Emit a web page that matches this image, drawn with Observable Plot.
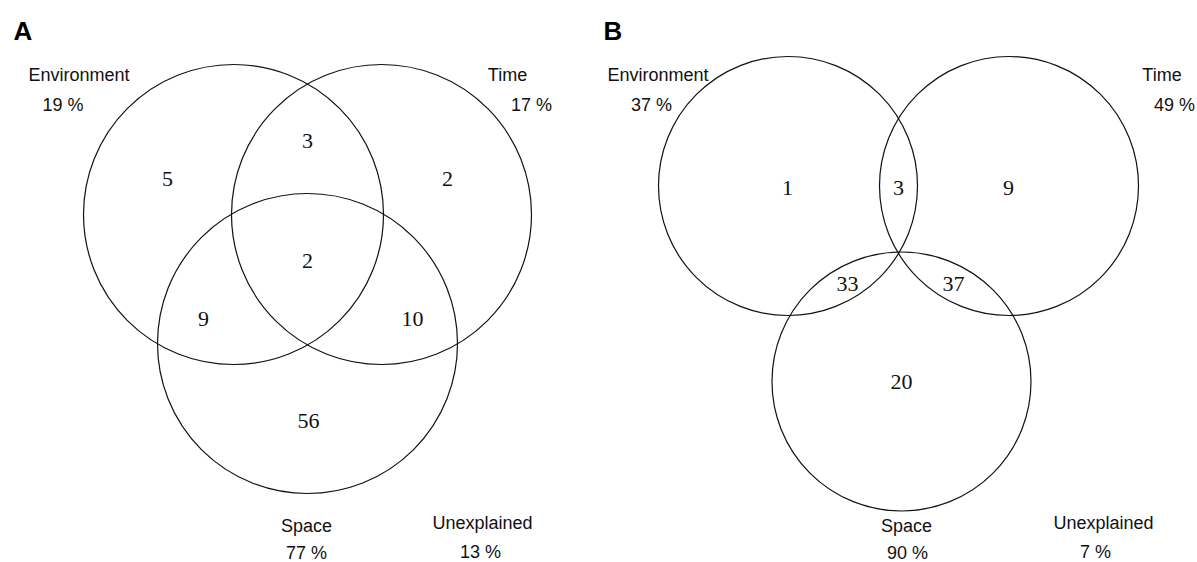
<!DOCTYPE html>
<html><head><meta charset="utf-8">
<script src="https://cdn.jsdelivr.net/npm/d3@7"></script>
<script src="https://cdn.jsdelivr.net/npm/@observablehq/plot@0.6"></script>
<style>body{margin:0;background:#fff}#chart svg{display:block}</style></head>
<body><div id="chart"></div>
<script>
// ---- data ----
const panels = ["A", "B"];
const setNames = ["Environment", "Time", "Space", "Unexplained"];
const percentA = [19, 17, 77, 13];
const percentB = [37, 49, 90, 7];
const regionsA = ["E", "E∩T", "T", "E∩T∩S", "E∩S", "T∩S", "S"];
const countsA = [5, 3, 2, 2, 9, 10, 56];
const regionsB = ["E", "E∩T", "T", "E∩S", "T∩S", "S"];
const countsB = [1, 3, 9, 33, 37, 20];

// ---- layout (pixel geometry of the drawing) ----
const circleLayout = {
  A: {Environment: [233, 214, 150], Time: [381, 214, 150], Space: [307, 343, 150]},
  B: {Environment: [787.5, 185.5, 129.5], Time: [1008.5, 185.5, 129.5], Space: [901, 381, 129.5]}
};
const regionLayout = {
  A: {"E": [167, 178], "E∩T": [307, 140], "T": [447, 178], "E∩T∩S": [307, 260], "E∩S": [203, 318], "T∩S": [412, 318], "S": [308, 420]},
  B: {"E": [787, 187], "E∩T": [898, 187], "T": [1008, 187], "E∩S": [847, 283], "T∩S": [953, 283], "S": [901, 381]}
};
// [nameX, nameBaseline, pctX, pctBaseline]
const labelLayout = {
  A: {Environment: [78.5, 80, 62.5, 110], Time: [507, 80, 531, 110], Space: [306, 531, 306, 558], Unexplained: [482, 528, 480, 557]},
  B: {Environment: [657.5, 80, 651, 110], Time: [1161.5, 80, 1174, 110], Space: [906, 531, 907, 558], Unexplained: [1103, 528, 1095, 557]}
};
const panelLetterLayout = {A: [13, 39], B: [603, 39]};

// ---- build tables ----
const percents = {A: percentA, B: percentB};
const regions = {A: regionsA, B: regionsB};
const counts = {A: countsA, B: countsB};
const circles = [], regionLabels = [], nameLabels = [], pctLabels = [], letters = [];
for (const p of panels) {
  for (const s of ["Environment", "Time", "Space"]) {
    const [x, y, r] = circleLayout[p][s];
    circles.push({panel: p, set: s, x, y, r});
  }
  regions[p].forEach((reg, i) => {
    const [x, y] = regionLayout[p][reg];
    regionLabels.push({x, y, text: String(counts[p][i])});
  });
  setNames.forEach((s, i) => {
    const [nx, ny, px, py] = labelLayout[p][s];
    nameLabels.push({x: nx, y: ny, text: s});
    pctLabels.push({x: px, y: py, text: `${percents[p][i]} %`});
  });
  const [lx, ly] = panelLetterLayout[p];
  letters.push({x: lx, y: ly, text: p});
}

const W = 1197, H = 562;
const chart = Plot.plot({
  width: W, height: H, margin: 0,
  x: {type: "linear", domain: [0, W], range: [0, W], axis: null},
  y: {type: "linear", domain: [0, H], range: [0, H], axis: null},
  r: {type: "linear", domain: [0, 200], range: [0, 200]},
  style: {background: "#fff"},
  marks: [
    Plot.dot(circles, {x: "x", y: "y", r: "r", stroke: "#111", strokeWidth: 1.2, fill: "none"}),
    Plot.text(regionLabels, {x: "x", y: "y", text: "text", fontFamily: "'Liberation Serif', 'Times New Roman', serif", fontSize: 22, fill: "#111", textAnchor: "middle", lineAnchor: "middle"}),
    Plot.text(nameLabels, {x: "x", y: "y", text: "text", fontFamily: "'Liberation Sans', Arial, sans-serif", fontSize: 18, fill: "#111", textAnchor: "middle", lineAnchor: "bottom"}),
    Plot.text(pctLabels, {x: "x", y: "y", text: "text", fontFamily: "'Liberation Sans', Arial, sans-serif", fontSize: 18, fill: "#111", textAnchor: "middle", lineAnchor: "bottom"}),
    Plot.text(letters, {x: "x", y: "y", text: "text", fontFamily: "'Liberation Sans', Arial, sans-serif", fontSize: 26, fontWeight: "bold", fill: "#000", textAnchor: "start", lineAnchor: "bottom"})
  ]
});
document.getElementById("chart").appendChild(chart);
</script>
</body></html>
